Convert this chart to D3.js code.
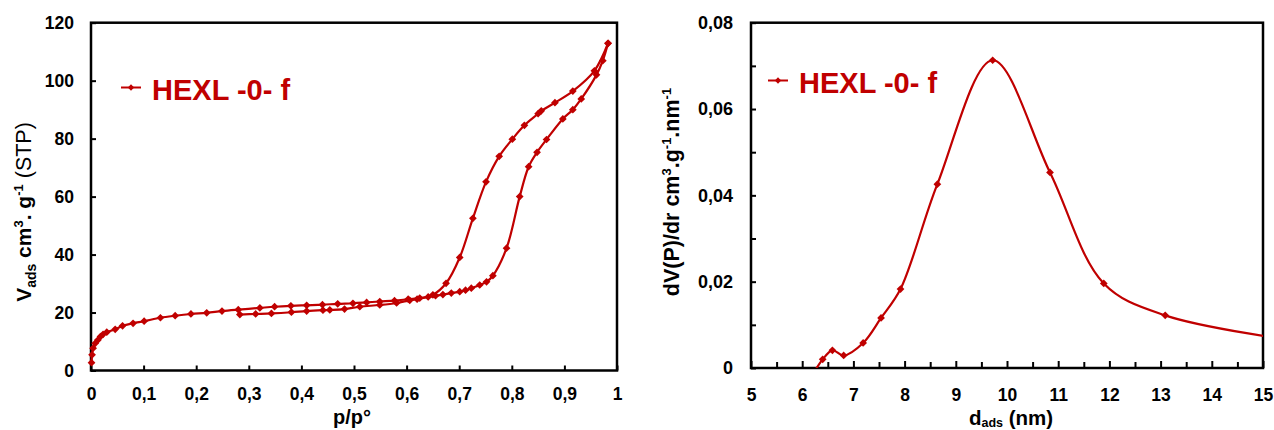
<!DOCTYPE html>
<html>
<head>
<meta charset="utf-8">
<script src="https://cdn.jsdelivr.net/npm/d3@7"></script>
<style>
  html, body { margin: 0; padding: 0; background: #fff; }
  svg { display: block; font-family: "Liberation Sans", Arial, sans-serif; }
</style>
</head>
<body>
<svg id="chart" width="1274" height="430"></svg>
<script>
// ---------- DATA ----------
const seriesName = "HEXL -0- f";

// Isotherm, adsorption branch (p/p°, Vads)
const adsP = [0.001,0.002,0.004,0.008,0.013,0.018,0.023,0.030,0.046,0.060,0.080,0.101,0.132,0.160,0.190,0.220,0.249,0.280,0.321,0.349,0.380,0.410,0.440,0.469,0.498,0.524,0.549,0.577,0.603,0.625,0.641,0.655,0.669,0.685,0.701,0.712,0.723,0.739,0.752,0.764,0.790,0.815,0.832,0.848,0.866,0.897,0.916,0.932,0.961,0.973,0.983];
const adsV = [2.7,5.4,7.7,9.4,10.5,11.7,12.5,13.2,14.2,15.4,16.3,17.0,18.2,18.9,19.5,19.9,20.5,21.0,21.6,22.0,22.3,22.5,22.7,23.0,23.2,23.5,23.8,24.1,24.6,25.0,25.4,25.8,26.2,26.7,27.2,27.7,28.4,29.5,30.6,32.7,42.2,60.0,70.3,75.3,79.7,86.8,90.0,93.7,102.0,106.9,112.9];

// Isotherm, desorption branch
const desP = [0.983,0.957,0.916,0.882,0.856,0.850,0.824,0.801,0.776,0.751,0.726,0.701,0.675,0.650,0.620,0.606,0.581,0.549,0.511,0.482,0.454,0.441,0.410,0.381,0.343,0.313,0.283];
const desV = [112.9,103.4,96.4,92.4,89.6,88.6,84.6,79.8,73.9,65.1,52.5,39.0,30.1,26.1,24.6,24.2,23.3,22.6,22.0,21.2,20.9,20.8,20.5,20.1,19.7,19.5,19.3];

// Pore size distribution (d_ads nm, dV/dr)
const poreD = [6.18,6.40,6.59,6.81,7.19,7.54,7.92,8.64,9.72,10.84,11.89,13.09,15.8];
const poreV = [-0.002,0.0020,0.0041,0.0029,0.0058,0.0116,0.0183,0.0426,0.0713,0.0453,0.0196,0.0122,0.0060];

// Ticks
const isoXTicks = [0,0.1,0.2,0.3,0.4,0.5,0.6,0.7,0.8,0.9,1];
const isoYTicks = [0,20,40,60,80,100,120];
const poreXTicks = [5,6,7,8,9,10,11,12,13,14,15];
const poreXMinor = [5.5,6.5,7.5,8.5,9.5,10.5,11.5,12.5,13.5,14.5];
const poreYTicks = [0,0.02,0.04,0.06,0.08];
const poreYMinor = [0.01,0.03,0.05,0.07];

// ---------- STYLE ----------
const RED = "#C00000";
const svg = d3.select("#chart");
const commaFmt = v => String(+v.toFixed(3)).replace(".", ",");

const diamond = d3.symbol().type(d3.symbolSquare).size(30);

function frame(g, x0, x1, y0, y1) {
  g.append("rect").attr("x", x0).attr("y", y1).attr("width", x1 - x0).attr("height", y0 - y1)
    .attr("fill", "none").attr("stroke", "#000").attr("stroke-width", 2.5);
}

function drawSeries(g, xs, ys, X, Y, clipId) {
  const pts = xs.map((d, i) => [X(d), Y(ys[i])]);
  const line = d3.line().curve(d3.curveCatmullRom.alpha(0.5));
  const sg = g.append("g").attr("clip-path", clipId ? `url(#${clipId})` : null);
  sg.append("path").attr("d", line(pts)).attr("fill", "none").attr("stroke", RED).attr("stroke-width", 2.2);
  sg.selectAll("path.mk").data(pts).enter().append("path").attr("class", "mk")
    .attr("d", diamond).attr("fill", RED)
    .attr("transform", p => `translate(${p[0]},${p[1]}) rotate(45)`);
}

function legend(g, x, y) {
  g.append("line").attr("x1", x).attr("x2", x + 20).attr("y1", y).attr("y2", y)
    .attr("stroke", RED).attr("stroke-width", 2);
  g.append("path").attr("d", d3.symbol().type(d3.symbolSquare).size(20)).attr("fill", RED)
    .attr("transform", `translate(${x + 10},${y}) rotate(45)`);
  g.append("text").attr("x", x + 31).attr("y", y + 12.5)
    .attr("fill", RED).attr("font-weight", "bold").attr("font-size", 29).text(seriesName);
}

// ---------- LEFT: isotherm ----------
{
  const X = d3.scaleLinear().domain([0, 1]).range([91, 617]);
  const Y = d3.scaleLinear().domain([0, 120]).range([370.5, 22.7]);
  const g = svg.append("g");

  const ax = g.append("g").attr("transform", `translate(0,${Y(0)})`)
    .call(d3.axisBottom(X).tickValues(isoXTicks).tickSize(-5).tickPadding(17).tickFormat(commaFmt));
  const ay = g.append("g").attr("transform", `translate(${X(0)},0)`)
    .call(d3.axisLeft(Y).tickValues(isoYTicks).tickSize(-5).tickPadding(17).tickFormat(d3.format("d")));
  [ax, ay].forEach(a => {
    a.select(".domain").remove();
    a.selectAll("line").attr("stroke", "#000").attr("stroke-width", 2);
    a.selectAll("text").attr("font-size", 17.5).attr("font-weight", "bold").attr("fill", "#000")
      .attr("font-family", "Liberation Sans, Arial, sans-serif");
  });
  frame(g, X(0), X(1), Y(0), Y(120));

  drawSeries(g, adsP, adsV, X, Y, null);
  drawSeries(g, desP, desV, X, Y, null);
  legend(g, 121, 87.5);

  g.append("text").attr("x", 352).attr("y", 424).attr("text-anchor", "middle")
    .attr("font-weight", "bold").attr("font-size", 20).text("p/p°");

  const t = g.append("text").attr("transform", "translate(31,212) rotate(-90)")
    .attr("text-anchor", "middle").attr("font-weight", "bold").attr("font-size", 21);
  t.append("tspan").text("V");
  t.append("tspan").attr("font-size", 14).attr("dy", 5).text("ads");
  t.append("tspan").attr("dy", -5).text(" cm");
  t.append("tspan").attr("font-size", 13).attr("dy", -8).text("3");
  t.append("tspan").attr("dy", 8).text(". g");
  t.append("tspan").attr("font-size", 13).attr("dy", -8).text("-1");
  t.append("tspan").attr("dy", 8).attr("font-weight", "normal").attr("font-size", 21.5).text(" (STP)");
}

// ---------- RIGHT: pore size distribution ----------
{
  const X = d3.scaleLinear().domain([5, 15]).range([751, 1263]);
  const Y = d3.scaleLinear().domain([0, 0.08]).range([368, 22.7]);
  const g = svg.append("g");

  svg.append("defs").append("clipPath").attr("id", "clipR").append("rect")
    .attr("x", X(5)).attr("y", Y(0.08)).attr("width", X(15) - X(5)).attr("height", Y(0) - Y(0.08));

  const ax = g.append("g").attr("transform", `translate(0,${Y(0)})`)
    .call(d3.axisBottom(X).tickValues(poreXTicks).tickSize(-7).tickPadding(21).tickFormat(d3.format("d")));
  const axm = g.append("g").attr("transform", `translate(0,${Y(0)})`)
    .call(d3.axisBottom(X).tickValues(poreXMinor).tickSize(-6).tickFormat(""));
  const ay = g.append("g").attr("transform", `translate(${X(5)},0)`)
    .call(d3.axisLeft(Y).tickValues(poreYTicks).tickSize(-5).tickPadding(18).tickFormat(commaFmt));
  const aym = g.append("g").attr("transform", `translate(${X(5)},0)`)
    .call(d3.axisLeft(Y).tickValues(poreYMinor).tickSize(-5).tickFormat(""));
  [ax, axm, ay, aym].forEach(a => {
    a.select(".domain").remove();
    a.selectAll("line").attr("stroke", "#000").attr("stroke-width", 2);
    a.selectAll("text").attr("font-size", 18).attr("font-weight", "bold").attr("fill", "#000")
      .attr("font-family", "Liberation Sans, Arial, sans-serif");
  });
  ax.selectAll("text").attr("font-size", 17.5);
  frame(g, X(5), X(15), Y(0), Y(0.08));

  drawSeries(g, poreD, poreV, X, Y, "clipR");
  legend(g, 768, 80.5);

  const xt = g.append("text").attr("x", 1011).attr("y", 425).attr("text-anchor", "middle")
    .attr("font-weight", "bold").attr("font-size", 20.5);
  xt.append("tspan").text("d");
  xt.append("tspan").attr("font-size", 12.5).attr("dy", 2).text("ads");
  xt.append("tspan").attr("dy", -2).text(" (nm)");

  const t = g.append("text").attr("transform", "translate(679,192) rotate(-90)")
    .attr("text-anchor", "middle").attr("font-weight", "bold").attr("font-size", 21.5);
  t.append("tspan").text("dV(P)/dr cm");
  t.append("tspan").attr("font-size", 13).attr("dy", -8).text("3");
  t.append("tspan").attr("dy", 8).text(".g");
  t.append("tspan").attr("font-size", 13).attr("dy", -8).text("-1");
  t.append("tspan").attr("dy", 8).text(".nm");
  t.append("tspan").attr("font-size", 13).attr("dy", -8).text("-1");
}
</script>
</body>
</html>
